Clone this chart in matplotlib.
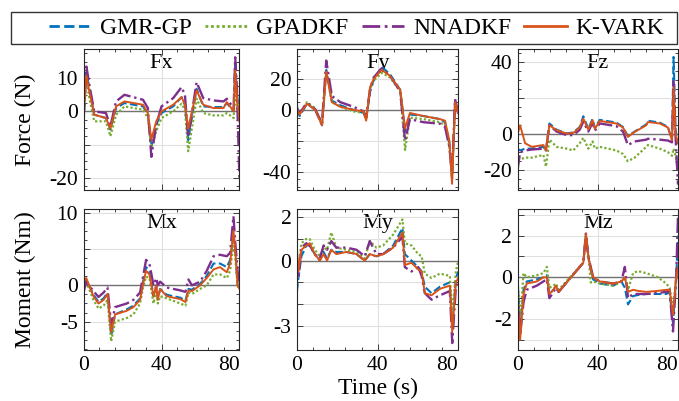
import matplotlib
matplotlib.use('Agg')
import matplotlib.pyplot as plt
from matplotlib.patches import Rectangle
from matplotlib.ticker import AutoMinorLocator, FixedLocator
import numpy as np

plt.rcParams['font.family'] = 'serif'
plt.rcParams['font.serif'] = ['Liberation Serif', 'DejaVu Serif']
plt.rcParams['axes.unicode_minus'] = False

methods = ["GMR-GP", "GPADKF", "NNADKF", "K-VARK"]
colors = ["#0072BD", "#77AC30", "#7E2F8E", "#D95319"]
styles = ["--", (0, (1, 1)), "-.", "-"]
widths = [1.5, 1.6, 1.7, 1.4]

# ---- Fx (N) ----
t_fx = [0, 1.5, 3, 5.5, 11.5, 13.8, 16.7, 21, 30.5, 33, 34.8, 37.3, 40, 46, 50.3, 52, 53.7, 58, 61.4, 66.6, 71.8, 73.5, 77, 77.8, 78.6, 80]
fx_gmr = [-3, 11.8, 7, -1, -2, -5.5, 1, 2.5, 1.5, -1, -10.7, -4, -0.5, 1.5, 4.3, 2, -8.7, 6.8, 1.5, 1.3, 1.3, 2.5, 0, 15.3, 6, -2]
fx_gpa = [-3.7, 9.8, 4, -3, -3, -7.5, -1, 1.5, 0.5, -2, -11, -6, -2, 0, 2.3, 0.5, -12, 3.8, -0.5, -1.2, -1.2, -0.5, -2, 6, 2, -3]
fx_nna = [-2, 13.5, 8, 0, -0.5, -4.5, 3, 5, 3.5, 1, -13.7, -4, 1.5, 4, 7.3, 5, -7.7, 8.8, 4, 3.3, 3, 3.8, 1, 16.3, 8, -21]
fx_kvk = [-1, 10.8, 6, -1, -2, -5.2, 1.5, 3, 2, -0.5, -8.5, -3, 0, 2, 4.3, 2, -5.2, 6.3, 2, 1, 1, 2.8, 0, 12.3, 5, -3]

# ---- Fy (N) ----
t_fy = [0, 1.3, 5, 9, 12.4, 14.5, 17.3, 21.5, 28, 33, 34.3, 36.3, 38, 42, 46.2, 51.2, 53.6, 56, 62.7, 71, 73.4, 75.6, 76.9, 78.4, 80]
fy_gmr = [0, -4, 4, 0, -10, 26, 6, 3, 0, -2, -6, 12, 19, 28, 23, 13, -14, -3, -4, -6, -8, -22, -45, 6, -2]
fy_gpa = [2, -2, 5, 1, -9, 24, 5, 2, -1, -2, -6, 14, 19, 24, 21, 12, -26, -5, -6, -8, -10, -24, -44, 4, -1]
fy_nna = [1, -2, 4.5, 0.5, -9, 32, 9, 5, 2, -1, -5, 14, 21, 27, 22, 12, -20, -6, -8, -9, -11, -24, -42, 7, -3]
fy_kvk = [0, -3, 4, 0, -10, 25, 5, 2, 0, -1, -7, 15, 20, 26, 22, 13, -12, -2, -4, -6, -7, -20, -48, 5, -2]

# ---- Fz (N) ----
t_fz = [0, 1.3, 3.8, 7.1, 12.9, 14.2, 15.9, 19.5, 24.5, 27.8, 31, 32.8, 35.3, 37.4, 38.6, 41, 49.3, 52.6, 55, 58.4, 64.2, 65, 70.9, 75, 77, 77.8, 78.8, 80]
fz_gmr = [-8, -9, -8, -8, -7, -9, 6, 2.5, 0.5, 1, 4, 10, 3, 8.5, 3.5, 8, 6.5, 4, -1, 1.5, 5.5, 7.5, 6.5, 4, -3, 43, 2, -5]
fz_gpa = [-14, -14, -13, -13, -11.5, -18, -3, -7, -8, -9, -5, -2, -8, -4, -8, -7, -9, -11, -15, -13, -7, -6, -8, -10, -12, -8, -12, -20]
fz_nna = [-20, -10, -9, -8.5, -8, -9, 5, 1.5, -0.5, -0.5, 2.5, 7, 1.5, 6.5, 2, 6, 4.5, 1.5, -6, -4, -3, -2.5, -3, -3.5, -4.5, 30, -2, -28]
fz_kvk = [0, 5, -5, -7, -6, -9, 5, 2.2, 0.4, 0.7, 3.7, 8.7, 2.6, 7.8, 3, 7.4, 6, 3.7, -1.5, 1.3, 5, 6.8, 6, 3.7, -3.3, 26, 0, -5]

# ---- Mx (Nm) ----
t_mx = [0, 1.4, 5.1, 7.7, 10.3, 12.3, 14.2, 16.2, 22.2, 25.6, 29, 30.4, 32.1, 33.8, 35.9, 37.3, 38.1, 39.3, 42.7, 49.6, 52.3, 53.8, 55.6, 59.8, 63.2, 66.7, 70, 73.5, 75.2, 76.9, 77.8, 79, 80]
mx_gmr = [0.3, 0.8, -1.3, -2.3, -1.8, -1, -7, -4, -3.3, -2.8, -1.8, 0.3, 2.5, 2, -1.5, 0, -1.8, -0.5, -1.3, -1.7, -2.1, -0.5, -0.6, 0.2, 1.3, 3, 3, 2.5, 3.5, 7, 5, 0, -0.5]
mx_gpa = [0, 0.5, -2, -3.2, -2.8, -2, -7.7, -5, -4.5, -4, -2.5, -0.5, 1.2, 1, -2.5, -0.5, -2.5, -1.5, -1.8, -2.5, -2.8, -1, -1.2, -0.5, 0, 1.5, 1.5, 1, 2, 6, 4, 0, -0.5]
mx_nna = [-1, 0.5, -0.8, -1.6, -1, -0.3, -5.5, -3, -2.5, -2, -1, 1, 3.5, 3, 0, 1, 0, 0.5, -0.3, -0.7, -0.9, 0.8, 0, 0.5, 2, 4, 4.2, 4, 4.5, 9.5, 6, 2, 0]
mx_kvk = [0.5, 1, -1.5, -2.5, -2, -1.2, -6.4, -4, -3.5, -3, -2, 0, 2, 1.5, -1.5, 0, -2, -0.5, -1.5, -1.9, -2.3, -0.7, -0.8, 0, 1, 2.2, 2.5, 1.8, 3, 7.5, 5, 0, -0.5]

# ---- My (Nm) ----
t_my = [0, 0.7, 2.2, 4.6, 6.3, 8.8, 11.3, 13.2, 14.9, 17, 19.5, 24.5, 29.5, 33.6, 36.1, 39.4, 42.7, 47.7, 52.3, 53.5, 56.8, 60.1, 61.8, 63.4, 66.7, 70.9, 75.8, 77, 78.8, 80]
my_gmr = [-1.4, -0.8, 0.2, 0.7, 0.7, 0.3, 0, 0.4, 0.1, 0.5, 0.4, 0.4, 0.3, 0, 0.3, 0.2, 0.3, 0.7, 1.5, 0.3, 0, -0.3, -0.5, -1.2, -1.5, -1.2, -1, -3, -0.8, -0.5]
my_gpa = [-1, -0.3, 0.8, 1, 1, 0.5, 0.2, 0.6, 0.5, 1.3, 0.6, 0.5, 0.4, 0.1, 0.9, 0.6, 0.7, 1.2, 1.9, 0.8, 0.7, 0.3, 0.2, -0.6, -0.8, -0.6, -0.7, -2.5, -0.5, 0]
my_nna = [0, -0.8, 0.6, 0.8, 0.7, 0.3, 0.1, 0.7, 0.5, 0.9, 0.6, 0.6, 0.5, 0.2, 0.9, 0.3, 0.3, 0.6, 1.1, -0.3, -0.5, -0.3, -0.7, -1.5, -1.8, -1.6, -1.4, -3.8, -1.2, -1]
my_kvk = [0.5, -0.5, 0.5, 0.7, 0.8, 0.3, 0, 0.3, 0, 0.5, 0.3, 0.4, 0.3, 0, 0.3, 0.2, 0.3, 0.6, 1.3, -0.2, -0.1, -0.4, -0.5, -1.5, -1.6, -1.3, -1.15, -3.3, -1, -0.8]

# ---- Mz (Nm) ----
t_mz = [0, 1.3, 3, 4.6, 9.6, 12.9, 14.6, 15.9, 17.9, 19.2, 20.5, 32.8, 34.1, 35.3, 36.5, 37.7, 41.1, 47.7, 51.8, 53.5, 55.1, 57.6, 60, 64.2, 70, 74.2, 75.8, 77.5, 79.1, 80]
mz_gmr = [0, -2.5, -0.6, -0.2, -0.1, 0, 0.1, -0.8, -0.6, -0.4, -0.7, 0.7, 2, 1, 0.4, -0.1, -0.3, -0.4, -0.2, -0.5, -1.3, -0.9, -0.85, -0.8, -0.8, -0.8, -0.7, -2.2, 0, 2]
mz_gpa = [0, -2.2, 0.2, 0, 0.1, 0.2, 0.5, -0.5, -0.4, -0.3, -0.6, 0.7, 2, 1.1, -0.25, -0.2, -0.3, -0.4, -0.2, 0, -0.6, 0.2, 0.3, 0.2, 0, -0.3, -0.5, -1.5, 0, 0]
mz_nna = [-0.5, -2.8, -1.2, -0.6, -0.4, -0.2, -0.1, -1, -0.7, -0.5, -0.7, 0.7, 2.1, 1, 0.5, 0, -0.2, -0.3, -0.2, 0.5, -1, -0.8, -0.8, -0.8, -0.75, -0.7, -0.6, -2.6, 0, 3]
mz_kvk = [-1, -3, -0.8, -0.3, -0.2, 0, 0, -0.8, -0.6, -0.4, -0.7, 0.7, 2.1, 1, 0.4, 0, -0.2, -0.3, -0.2, 0, -0.7, -0.6, -0.65, -0.7, -0.65, -0.6, -0.6, -1.8, 0, 0.5]

panels = [
    ("Fx", t_fx, [fx_gmr, fx_gpa, fx_nna, fx_kvk], (-23.7, 18.8), [-20, -10, 0, 10], ["-20", "", "0", "10"]),
    ("Fy", t_fy, [fy_gmr, fy_gpa, fy_nna, fy_kvk], (-52, 39.5), [-40, -20, 0, 20], ["-40", "", "0", "20"]),
    ("Fz", t_fz, [fz_gmr, fz_gpa, fz_nna, fz_kvk], (-31, 47.4), [-20, 0, 20, 40], ["-20", "0", "", "40"]),
    ("Mx", t_mx, [mx_gmr, mx_gpa, mx_nna, mx_kvk], (-8.9, 10.5), [-5, 0, 5, 10], ["-5", "0", "", "10"]),
    ("My", t_my, [my_gmr, my_gpa, my_nna, my_kvk], (-4.12, 2.38), [-3, -2, -1, 0, 1, 2], ["-3", "", "", "0", "", "2"]),
    ("Mz", t_mz, [mz_gmr, mz_gpa, mz_nna, mz_kvk], (-3.49, 3.28), [-3, -2, -1, 0, 1, 2, 3], ["", "-2", "", "0", "", "2", ""]),
]

# axes boxes in pixels (left, right), (top, bottom)
cols_px = [(83.5, 239.5), (297, 458.3), (517.5, 678)]
rows_px = [(49, 190), (209, 350)]
W, H = 679, 401

fig = plt.figure(figsize=(6.79, 4.01), dpi=100)

axes = []
for i, (name, t, series, ylim, yt, ytl) in enumerate(panels):
    r, c = divmod(i, 3)
    l, rr = cols_px[c]
    tp, bt = rows_px[r]
    ax = fig.add_axes([l / W, 1 - bt / H, (rr - l) / W, (bt - tp) / H])
    axes.append(ax)
    ax.grid(True, which='major', color='0.88', lw=0.8)
    ax.axhline(0, color='0.45', lw=1.0, zorder=1.8)
    for vals, col, ls, lw, lab in zip(series, colors, styles, widths, methods):
        ax.plot(t, vals, color=col, ls=ls, lw=lw, label=lab)
    ax.text(0.5, 0.895, name, transform=ax.transAxes, ha='center', va='center',
            fontsize=16, zorder=1)
    ax.set_xlim(0, 80)
    ax.set_ylim(*ylim)
    ax.set_xticks([0, 40, 80])
    ax.xaxis.set_minor_locator(AutoMinorLocator(5))
    ax.yaxis.set_major_locator(FixedLocator(yt))
    ax.set_yticklabels(ytl)
    if len(yt) <= 4:
        ax.yaxis.set_minor_locator(AutoMinorLocator(4))
    if r == 0:
        ax.set_xticklabels([])
    else:
        ax.set_xticklabels(["0", "40", "80"])
        ax.get_xticklabels()[-1].set_ha('right')
    ax.tick_params(which='both', direction='in', top=True, right=True, width=0.6, colors='0.15')
    ax.tick_params(which='major', length=4, labelsize=15.5, pad=4, labelcolor='black')
    ax.tick_params(which='minor', length=2)
    for s in ax.spines.values():
        s.set_linewidth(0.8)
        s.set_color('0.15')

fig.text(25 / W, 1 - 119.5 / H, "Force (N)", rotation=90, ha='center', va='center', fontsize=17)
fig.text(25 / W, 1 - 279.5 / H, "Moment (Nm)", rotation=90, ha='center', va='center', fontsize=17)
fig.text(377.5 / W, 1 - 388 / H, "Time (s)", ha='center', va='center', fontsize=17)

handles, labels = axes[0].get_legend_handles_labels()
leg = fig.legend(handles, labels, loc='center', bbox_to_anchor=(356.5 / W, 1 - 28.3 / H),
                 ncol=4, fontsize=17, handlelength=1.8, handletextpad=0.37,
                 columnspacing=0.55, frameon=False, borderpad=0.1)
for h in leg.legend_handles:
    h.set_linewidth(2.0)
fig.add_artist(Rectangle((11 / W, 1 - 44.3 / H), 666 / W, 32 / H, transform=fig.transFigure,
                         fill=False, edgecolor='0.2', lw=1.0))

fig.savefig("out.png", dpi=100)
